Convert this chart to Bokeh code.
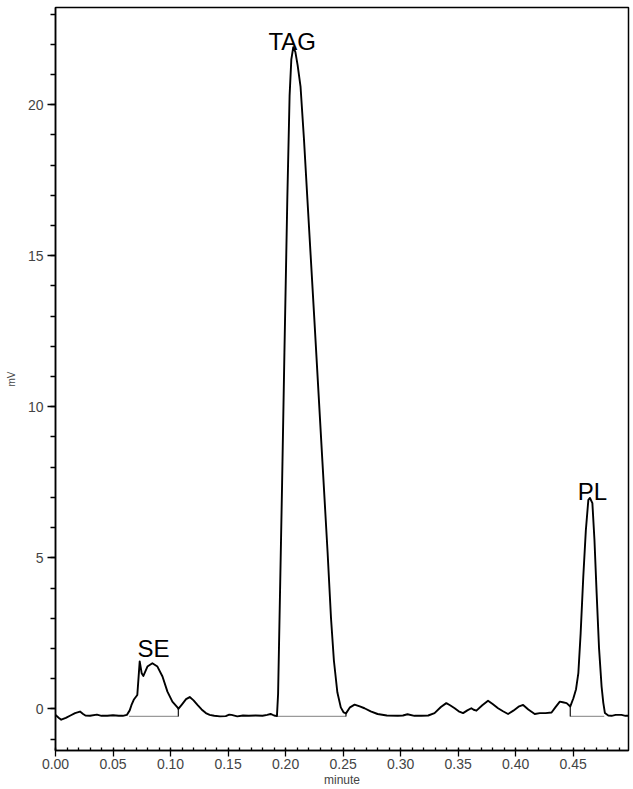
from bokeh.plotting import figure
from bokeh.models import Range1d, SingleIntervalTicker, PrintfTickFormatter
from bokeh.core.properties import value
from bokeh.embed import file_html
from bokeh.resources import INLINE

# Chromatogram trace (minutes, mV)
time_min = [
    0.000, 0.003, 0.005, 0.009, 0.013, 0.017, 0.0213, 0.024, 0.026, 0.030,
    0.036, 0.040, 0.045, 0.050, 0.055, 0.0585, 0.062, 0.0645, 0.066, 0.068,
    0.0711, 0.0725, 0.0732, 0.0749, 0.0764, 0.0799, 0.0842, 0.0886, 0.093, 0.0973,
    0.1016, 0.106, 0.1068, 0.110, 0.1135, 0.1167, 0.120, 0.1234, 0.127, 0.1307,
    0.134, 0.138, 0.143, 0.148, 0.151, 0.153, 0.158, 0.163, 0.168, 0.174,
    0.180, 0.184, 0.187, 0.190, 0.1925, 0.1935, 0.195, 0.197, 0.199, 0.2015,
    0.2035, 0.205, 0.2067, 0.2085, 0.2105, 0.213, 0.216, 0.219, 0.225, 0.232,
    0.2365, 0.2395, 0.242, 0.245, 0.248, 0.2505, 0.2525, 0.256, 0.260, 0.2645,
    0.2686, 0.274, 0.280, 0.288, 0.2976, 0.302, 0.306, 0.312, 0.318, 0.324,
    0.3295, 0.335, 0.3397, 0.343, 0.347, 0.3505, 0.3543, 0.358, 0.3615, 0.3635,
    0.3659, 0.371, 0.376, 0.380, 0.3847, 0.389, 0.3934, 0.398, 0.4025, 0.4065,
    0.411, 0.4166, 0.421, 0.426, 0.4312, 0.4345, 0.4384, 0.441, 0.4443, 0.4475,
    0.4502, 0.4525, 0.4545, 0.4565, 0.4588, 0.461, 0.4632, 0.4646, 0.4667, 0.4685,
    0.4704, 0.4725, 0.4747, 0.4762, 0.4776, 0.4805, 0.4834, 0.487, 0.492, 0.4955,
    0.4985,
]
signal_mv = [
    -0.20, -0.30, -0.36, -0.30, -0.22, -0.14, -0.09, -0.17, -0.22, -0.23,
    -0.19, -0.23, -0.23, -0.21, -0.23, -0.23, -0.20, -0.05, 0.12, 0.30,
    0.46, 1.20, 1.57, 1.18, 1.09, 1.40, 1.51, 1.40, 1.07, 0.57,
    0.24, 0.05, 0.00, 0.15, 0.32, 0.39, 0.28, 0.13, -0.02, -0.14,
    -0.20, -0.23, -0.25, -0.24, -0.19, -0.20, -0.25, -0.22, -0.23, -0.22,
    -0.23, -0.20, -0.17, -0.22, -0.24, 0.50, 3.50, 7.50, 11.80, 16.85,
    20.30, 21.50, 21.90, 21.75, 21.30, 20.60, 18.85, 16.85, 12.90, 8.20,
    5.20, 3.00, 1.60, 0.55, 0.05, -0.12, -0.15, 0.05, 0.14, 0.08,
    0.02, -0.08, -0.17, -0.22, -0.23, -0.22, -0.18, -0.23, -0.23, -0.22,
    -0.14, 0.06, 0.19, 0.12, 0.02, -0.08, -0.14, -0.05, 0.02, -0.03,
    -0.06, 0.12, 0.27, 0.16, 0.02, -0.08, -0.17, -0.06, 0.07, 0.13,
    -0.02, -0.17, -0.14, -0.14, -0.12, 0.05, 0.24, 0.22, 0.19, 0.08,
    0.35, 0.65, 1.18, 2.50, 4.38, 5.90, 6.92, 6.98, 6.81, 5.60,
    3.83, 2.00, 0.74, 0.20, -0.14, -0.22, -0.23, -0.20, -0.20, -0.23,
    -0.23,
]

# Peak names and where they are written
peak_names = ["SE", "TAG", "PL"]
peak_label_x = [0.0852, 0.2058, 0.4668]
peak_label_y = [2.00, 22.08, 7.20]

# Integration baselines under each peak
baseline_start = [0.0639, 0.1925, 0.4475]
baseline_end = [0.1068, 0.2525, 0.4770]
baseline_level = [-0.25, -0.25, -0.25]

# Drop lines at peak limits
drop_x = [0.1068, 0.4475, 0.2525]
drop_top = [0.00, 0.08, -0.15]
drop_bottom = [-0.25, -0.25, -0.25]

FONT = "Liberation Sans"

p = figure(width=633, height=789, output_backend="svg", toolbar_location=None,
           x_range=Range1d(0, 0.4981), y_range=Range1d(-1.3785, 23.216),
           min_border_left=55, min_border_right=5, min_border_top=7,
           min_border_bottom=38)
p.background_fill_color = "white"
p.border_fill_color = "white"
p.xgrid.visible = False
p.ygrid.visible = False
p.outline_line_color = "black"
p.outline_line_width = 1.5
p.outline_line_alpha = 1.0

# baselines
p.segment(x0=baseline_start, y0=baseline_level, x1=baseline_end, y1=baseline_level,
          line_color="#9a9a9a", line_width=1.2)
# drop lines
p.segment(x0=drop_x, y0=drop_bottom, x1=drop_x, y1=drop_top,
          line_color="#222222", line_width=1.3)
# trace
p.line(time_min, signal_mv, line_color="black", line_width=1.9, line_join="round")

# peak labels
p.text(x=peak_label_x, y=peak_label_y, text=peak_names,
       text_font=value(FONT), text_font_size="24px", text_color="black",
       text_align="center", text_baseline="alphabetic")

# x axis
xa = p.xaxis[0]
xa.ticker = SingleIntervalTicker(interval=0.05, num_minor_ticks=5)
xa.formatter = PrintfTickFormatter(format="%.2f")
xa.axis_label = "minute"
xa.axis_label_text_font = FONT
xa.axis_label_text_font_size = "12px"
xa.axis_label_text_font_style = "normal"
xa.axis_label_standoff = 1
xa.major_label_text_font = FONT
xa.major_label_text_font_size = "14px"
xa.major_label_standoff = 2
xa.major_tick_in = 2
xa.major_tick_out = 6
xa.minor_tick_in = 3
xa.minor_tick_out = 0
xa.axis_line_width = 1.5
xa.major_tick_line_width = 1.3
xa.minor_tick_line_width = 1.3
xa.axis_line_color = "black"

# y axis
ya = p.yaxis[0]
ya.ticker = SingleIntervalTicker(interval=5, num_minor_ticks=5)
ya.axis_label = "mV"
ya.axis_label_text_font = FONT
ya.axis_label_text_font_size = "10px"
ya.axis_label_text_font_style = "normal"
ya.axis_label_standoff = 8
ya.major_label_text_font = FONT
ya.major_label_text_font_size = "14px"
ya.major_label_standoff = 4
ya.major_tick_in = 0
ya.major_tick_out = 8
ya.minor_tick_in = 0
ya.minor_tick_out = 5
ya.axis_line_width = 1.5
ya.major_tick_line_width = 1.3
ya.minor_tick_line_width = 1.3
ya.axis_line_color = "black"

open("out.html", "w").write(file_html(p, INLINE))
